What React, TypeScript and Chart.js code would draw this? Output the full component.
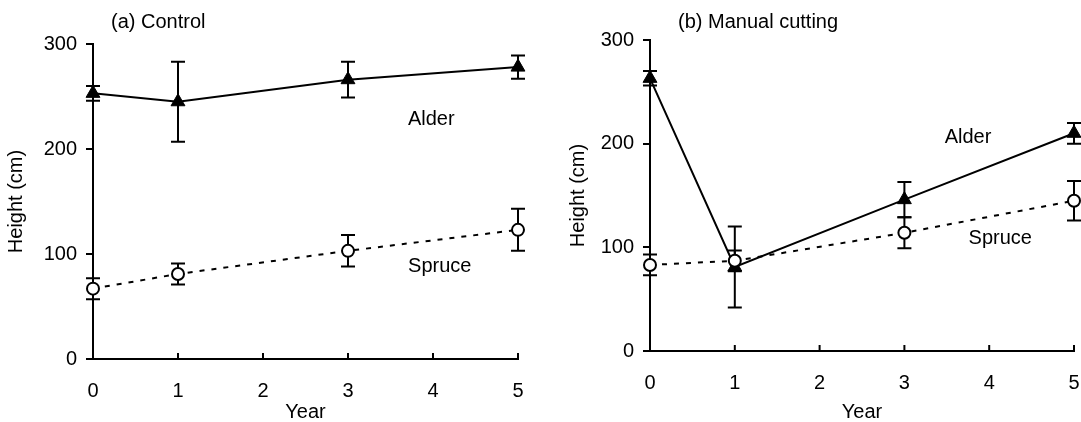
import React, { useEffect, useRef } from 'react';
import { Chart, registerables } from 'chart.js';

Chart.register(...registerables);

// ---- data ----
const years = [0, 1, 3, 5];
const xMin = 0;
const xMax = 5;
const yMin = 0;
const yMax = 300;
const yStep = 100;

const controlAlder = [253, 245, 266, 278];
const controlAlderErr = [7, 38, 17, 11];
const controlSpruce = [67, 81, 103, 123];
const controlSpruceErr = [10, 10, 15, 20];

const cuttingAlder = [263, 81, 146, 210];
const cuttingAlderErr = [7, 39, 17, 10];
const cuttingSpruce = [83, 87, 114, 145];
const cuttingSpruceErr = [10, 10, 15, 19];

const panelTitles = ['(a) Control', '(b) Manual cutting'];
const seriesNames = ['Alder', 'Spruce'];
const xTitle = 'Year';
const yTitle = 'Height (cm)';

const FONT = '"Liberation Sans", Arial, Helvetica, sans-serif';
const FS = 20;

type PanelCfg = {
  title: string;
  titleX: number;
  titleY: number;
  alder: number[];
  alderErr: number[];
  spruce: number[];
  spruceErr: number[];
  alderLabel: [number, number];
  spruceLabel: [number, number];
  width: number;
  padRight: number;
  padTop: number;
  yAxisWidth: number;
  xAxisHeight: number;
  yTitlePad: number;
};

const panels: PanelCfg[] = [
  {
    title: panelTitles[0],
    titleX: 111,
    titleY: 22,
    alder: controlAlder,
    alderErr: controlAlderErr,
    spruce: controlSpruce,
    spruceErr: controlSpruceErr,
    alderLabel: [3.98, 228],
    spruceLabel: [4.08, 88],
    width: 540,
    padRight: 22,
    padTop: 44,
    yAxisWidth: 93,
    xAxisHeight: 63,
    yTitlePad: 4,
  },
  {
    title: panelTitles[1],
    titleX: 138,
    titleY: 22,
    alder: cuttingAlder,
    alderErr: cuttingAlderErr,
    spruce: cuttingSpruce,
    spruceErr: cuttingSpruceErr,
    alderLabel: [3.75, 206],
    spruceLabel: [4.13, 109],
    width: 560,
    padRight: 26,
    padTop: 40,
    yAxisWidth: 110,
    xAxisHeight: 71,
    yTitlePad: 26,
  },
];

const annotatePlugin = {
  id: 'annotate',
  beforeDatasetsDraw(chart: any) {
    const ctx = chart.ctx;
    const ys = chart.scales.y;
    ctx.save();
    ctx.strokeStyle = '#000';
    ctx.lineWidth = 2;
    chart.data.datasets.forEach((ds: any, di: number) => {
      const meta = chart.getDatasetMeta(di);
      meta.data.forEach((pt: any, i: number) => {
        const v = ds.data[i].y;
        const e = ds.errors[i];
        const x = pt.x;
        const yTop = ys.getPixelForValue(v + e);
        const yBot = ys.getPixelForValue(v - e);
        ctx.beginPath();
        ctx.moveTo(x, yTop);
        ctx.lineTo(x, yBot);
        ctx.moveTo(x - 7, yTop);
        ctx.lineTo(x + 7, yTop);
        ctx.moveTo(x - 7, yBot);
        ctx.lineTo(x + 7, yBot);
        ctx.stroke();
      });
    });
    ctx.restore();
  },
  afterDraw(chart: any, _args: any, opts: any) {
    const ctx = chart.ctx;
    const xs = chart.scales.x;
    const ys = chart.scales.y;
    ctx.save();
    // inward x ticks
    ctx.strokeStyle = '#000';
    ctx.lineWidth = 2;
    const bottom = chart.chartArea.bottom;
    xs.ticks.forEach((t: any) => {
      const px = xs.getPixelForValue(t.value);
      ctx.beginPath();
      ctx.moveTo(px, bottom);
      ctx.lineTo(px, bottom - 6);
      ctx.stroke();
    });
    ctx.fillStyle = '#000';
    ctx.font = `${FS}px ${FONT}`;
    ctx.textBaseline = 'middle';
    ctx.textAlign = 'left';
    ctx.fillText(opts.title, opts.titleX, opts.titleY);
    ctx.textAlign = 'center';
    ctx.fillText(seriesNames[0], xs.getPixelForValue(opts.alderLabel[0]), ys.getPixelForValue(opts.alderLabel[1]));
    ctx.fillText(seriesNames[1], xs.getPixelForValue(opts.spruceLabel[0]), ys.getPixelForValue(opts.spruceLabel[1]));
    ctx.restore();
  },
};

function Panel({ cfg }: { cfg: PanelCfg }) {
  const ref = useRef<HTMLCanvasElement | null>(null);
  useEffect(() => {
    if (!ref.current) return;
    const chart = new Chart(ref.current, {
      type: 'line',
      data: {
        datasets: [
          {
            label: seriesNames[0],
            data: years.map((x, i) => ({ x, y: cfg.alder[i] })),
            errors: cfg.alderErr,
            borderColor: '#000',
            backgroundColor: '#000',
            borderWidth: 2,
            pointStyle: 'triangle',
            pointRadius: 8,
            pointBorderWidth: 1,
            pointBackgroundColor: '#000',
            pointBorderColor: '#000',
            tension: 0,
            clip: false,
            order: 1,
          } as any,
          {
            label: seriesNames[1],
            data: years.map((x, i) => ({ x, y: cfg.spruce[i] })),
            errors: cfg.spruceErr,
            borderColor: '#000',
            backgroundColor: '#fff',
            borderWidth: 2,
            borderDash: [5, 7],
            pointStyle: 'circle',
            pointRadius: 6,
            pointBorderWidth: 2,
            pointBackgroundColor: '#fff',
            pointBorderColor: '#000',
            tension: 0,
            clip: false,
            order: 0,
          } as any,
        ],
      },
      options: {
        responsive: false,
        animation: false,
        events: [],
        layout: { padding: { left: 0, right: cfg.padRight, top: cfg.padTop, bottom: 0 } },
        plugins: {
          legend: { display: false },
          tooltip: { enabled: false },
          annotate: cfg,
        } as any,
        scales: {
          x: {
            type: 'linear',
            min: xMin,
            max: xMax,
            afterFit: (s: any) => {
              s.height = cfg.xAxisHeight;
            },
            grid: { display: false },
            border: { display: true, color: '#000', width: 2 },
            ticks: {
              stepSize: 1,
              padding: 12,
              color: '#000',
              font: { family: FONT, size: FS },
            },
            title: {
              display: true,
              text: xTitle,
              color: '#000',
              font: { family: FONT, size: FS, lineHeight: 1 },
              padding: { top: 0, bottom: 0 },
            },
          },
          y: {
            type: 'linear',
            min: yMin,
            max: yMax,
            afterFit: (s: any) => {
              s.width = cfg.yAxisWidth;
            },
            grid: {
              display: true,
              drawOnChartArea: false,
              drawTicks: true,
              tickLength: 7,
              color: '#000',
              lineWidth: 2,
            },
            border: { display: true, color: '#000', width: 2 },
            ticks: {
              stepSize: yStep,
              padding: 9,
              color: '#000',
              font: { family: FONT, size: FS },
            },
            title: {
              display: true,
              text: yTitle,
              color: '#000',
              font: { family: FONT, size: FS },
              padding: { top: cfg.yTitlePad, bottom: 0 },
            },
          },
        },
      } as any,
      plugins: [annotatePlugin as any],
    });
    return () => chart.destroy();
  }, [cfg]);
  return <canvas ref={ref} width={cfg.width} height={422} style={{ display: 'block' }} />;
}

export default function App() {
  return (
    <div
      style={{
        position: 'absolute',
        left: 0,
        top: 0,
        width: 1081,
        height: 422,
        overflow: 'hidden',
        background: '#fff',
      }}
    >
      <div style={{ position: 'absolute', left: 0, top: 0, width: panels[0].width, height: 422 }}>
        <Panel cfg={panels[0]} />
      </div>
      <div style={{ position: 'absolute', left: 540, top: 0, width: panels[1].width, height: 422 }}>
        <Panel cfg={panels[1]} />
      </div>
    </div>
  );
}
